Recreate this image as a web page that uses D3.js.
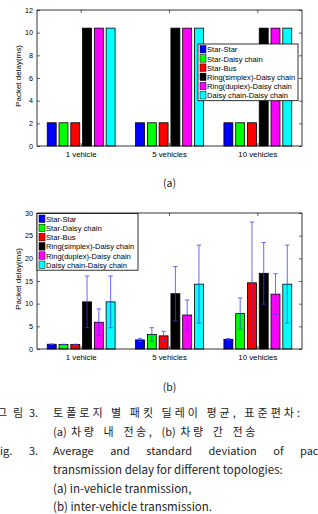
<!DOCTYPE html>
<html>
<head>
<meta charset="utf-8">
<script src="https://cdn.jsdelivr.net/npm/d3@7"></script>
<style>
  html, body { margin: 0; padding: 0; background: #fff; overflow: hidden; }
  svg { display: block; }
  .ax text { font-family: "Liberation Sans", Arial, sans-serif; fill: #000; }
  .cap text { font-family: "Noto Sans CJK KR", "Noto Sans", sans-serif; fill: #222; }
</style>
</head>
<body>
<div id="chart"></div>
<script>
// --- data ---
const groups = ["1 vehicle", "5 vehicles", "10 vehicles"];
const series = ["Star-Star", "Star-Daisy chain", "Star-Bus", "Ring(simplex)-Daisy chain", "Ring(duplex)-Daisy chain", "Daisy chain-Daisy chain"];
const colors = ["#0000ff", "#00ff00", "#ff0000", "#000000", "#ff00ff", "#00ffff"];

// (a) in-vehicle, rows = series, cols = groups
const inVehicle = [
  [2.05, 2.05, 2.05],
  [2.05, 2.05, 2.05],
  [2.05, 2.05, 2.05],
  [10.4, 10.4, 10.4],
  [10.4, 10.4, 10.4],
  [10.4, 10.4, 10.4]
];
// (b) inter-vehicle mean and std
const interMean = [
  [1.05, 2.0, 2.1],
  [1.0, 3.2, 7.8],
  [1.0, 2.9, 14.6],
  [10.4, 12.2, 16.7],
  [5.9, 7.5, 12.1],
  [10.4, 14.3, 14.3]
];
const interStd = [
  [0.05, 0.35, 0.2],
  [0.05, 1.5, 3.45],
  [0.05, 1.0, 13.4],
  [5.7, 6.0, 6.8],
  [2.95, 3.3, 4.5],
  [5.7, 8.6, 8.6]
];
const ticksA = [0, 2, 4, 6, 8, 10, 12];
const ticksB = [0, 5, 10, 15, 20, 25, 30];

const W = 318, H = 514;
const svg = d3.select("#chart").append("svg").attr("width", W).attr("height", H);

function drawPanel(cfg) {
  const { top, bottom, left, right, yMax, ticks, mean, std, legend, label } = cfg;
  const g = svg.append("g").attr("class", "ax");

  const x0 = d3.scaleBand().domain(groups).range([left, right]).padding(0);
  const x1 = d3.scaleBand().domain(series).range([-x0.bandwidth() * 0.4, x0.bandwidth() * 0.4])
    .paddingInner(0.24).paddingOuter(0.12);
  const y = d3.scaleLinear().domain([0, yMax]).range([bottom, top]);

  // bars
  groups.forEach((grp, gi) => {
    series.forEach((s, si) => {
      const cx = x0(grp) + x0.bandwidth() / 2;
      g.append("rect")
        .attr("x", cx + x1(s))
        .attr("y", y(mean[si][gi]))
        .attr("width", x1.bandwidth())
        .attr("height", y(0) - y(mean[si][gi]))
        .attr("fill", colors[si])
        .attr("stroke", "#000")
        .attr("stroke-width", 0.8);
    });
  });

  // error bars
  if (std) {
    groups.forEach((grp, gi) => {
      series.forEach((s, si) => {
        const ex = x0(grp) + x0.bandwidth() / 2 + x1(s) + x1.bandwidth() / 2;
        const hi = y(mean[si][gi] + std[si][gi]);
        const lo = y(Math.max(0, mean[si][gi] - std[si][gi]));
        const eb = g.append("g").attr("stroke", "#3a3aff").attr("stroke-width", 0.9).attr("opacity", 0.85);
        eb.append("line").attr("x1", ex).attr("x2", ex).attr("y1", hi).attr("y2", lo);
        eb.append("line").attr("x1", ex - 2.2).attr("x2", ex + 2.2).attr("y1", hi).attr("y2", hi);
        eb.append("line").attr("x1", ex - 2.2).attr("x2", ex + 2.2).attr("y1", lo).attr("y2", lo);
      });
    });
  }

  // axes (matlab box, ticks inward)
  const yl = g.append("g").attr("transform", `translate(${left},0)`)
    .call(d3.axisLeft(y).tickValues(ticks).tickSize(-3).tickPadding(4));
  const yr = g.append("g").attr("transform", `translate(${right},0)`)
    .call(d3.axisRight(y).tickValues(ticks).tickSize(-3).tickFormat(""));
  const xb = g.append("g").attr("transform", `translate(0,${bottom})`)
    .call(d3.axisBottom(x0).tickSize(-3).tickPadding(5));
  const xt = g.append("g").attr("transform", `translate(0,${top})`)
    .call(d3.axisTop(x0).tickSize(-3).tickFormat(""));
  [yl, yr, xb, xt].forEach(a => {
    a.select(".domain").attr("stroke", "#000").attr("stroke-width", 0.8);
    a.selectAll(".tick line").attr("stroke", "#000").attr("stroke-width", 0.6);
    a.selectAll("text").attr("fill", "#000");
  });
  yl.selectAll("text").attr("font-size", 7.2);
  xb.selectAll("text").attr("font-size", 7.8);
  yl.select(".domain").attr("d", `M0,${bottom}V${top}`);
  xb.select(".domain").attr("d", `M${left},0H${right}`);
  yr.select(".domain").attr("d", `M0,${bottom}V${top}`);
  xt.select(".domain").attr("d", `M${left},0H${right}`);

  g.append("text")
    .attr("transform", `translate(${left - 16},${(top + bottom) / 2 - 2}) rotate(-90)`)
    .attr("text-anchor", "middle")
    .attr("font-size", 8)
    .text("Packet delay(ms)");

  // legend
  const lg = g.append("g").attr("transform", `translate(${legend.x},${legend.y})`);
  const rowH = 9.2;
  lg.append("rect").attr("width", legend.w).attr("height", rowH * series.length + 1.5)
    .attr("fill", "#fff").attr("stroke", "#000").attr("stroke-width", 0.8);
  series.forEach((s, i) => {
    lg.append("rect").attr("x", 2).attr("y", 1.5 + i * rowH).attr("width", 6).attr("height", 7.5)
      .attr("fill", colors[i]).attr("stroke", "#000").attr("stroke-width", 0.5);
    lg.append("text").attr("x", 9).attr("y", 1.5 + i * rowH + 6.8).attr("font-size", 7.6).text(s);
  });

  svg.append("g").attr("class", "cap").append("text")
    .attr("x", (left + right) / 2).attr("y", label.y)
    .attr("text-anchor", "middle").attr("font-size", 10.5).text(label.t);
}

drawPanel({ top: 10, bottom: 146, left: 37, right: 302, yMax: 12, ticks: ticksA,
  mean: inVehicle, std: null, legend: { x: 198, y: 44, w: 100 }, label: { t: "(a)", y: 187 } });
drawPanel({ top: 213, bottom: 349, left: 37, right: 302, yMax: 30, ticks: ticksB,
  mean: interMean, std: interStd, legend: { x: 37, y: 213.5, w: 101 }, label: { t: "(b)", y: 391 } });

// caption (clipped at the page edges, as in the scanned source)
const cap = svg.append("g").attr("class", "cap").attr("font-size", 11);
cap.append("text").attr("x", -3).attr("y", 416.5).attr("textLength", 26).attr("lengthAdjust", "spacing").text("그림");
cap.append("text").attr("x", 29).attr("y", 416.5).text("3.");
cap.append("text").attr("x", 53).attr("y", 416.5).attr("textLength", 247).attr("lengthAdjust", "spacing")
  .text("토폴로지 별 패킷 딜레이 평균, 표준편차:");
cap.append("text").attr("x", 53).attr("y", 436).attr("word-spacing", 2)
  .text("(a) ").append("tspan").attr("letter-spacing", 2.6).text("차량 내 전송, ");
cap.select("text:last-child").append("tspan").text("(b) ")
  .append("tspan").attr("letter-spacing", 2.6).text("차량 간 전송");
cap.append("text").attr("x", -6).attr("y", 455).text("Fig.");
cap.append("text").attr("x", 29).attr("y", 455).text("3.");

// justified line: spread words evenly between x=53 and the last word start
const line3 = ["Average", "and", "standard", "deviation", "of", "packet"];
const words = line3.map(w => cap.append("text").attr("y", 455).text(w));
const widths = words.map(t => t.node().getComputedTextLength());
const lastStart = 300;
const used = d3.sum(widths.slice(0, -1));
const gap = (lastStart - 53 - used) / (line3.length - 1);
let cx = 53;
words.forEach((t, i) => { t.attr("x", cx); cx += widths[i] + gap; });

cap.append("text").attr("x", 53).attr("y", 474).attr("font-size", 11.5).text("transmission delay for different topologies:");
cap.append("text").attr("x", 53).attr("y", 492.5).attr("font-size", 11.5).text("(a) in-vehicle tranmission,");
cap.append("text").attr("x", 53).attr("y", 511).attr("font-size", 11.5).text("(b) inter-vehicle transmission.");
</script>
</body>
</html>
